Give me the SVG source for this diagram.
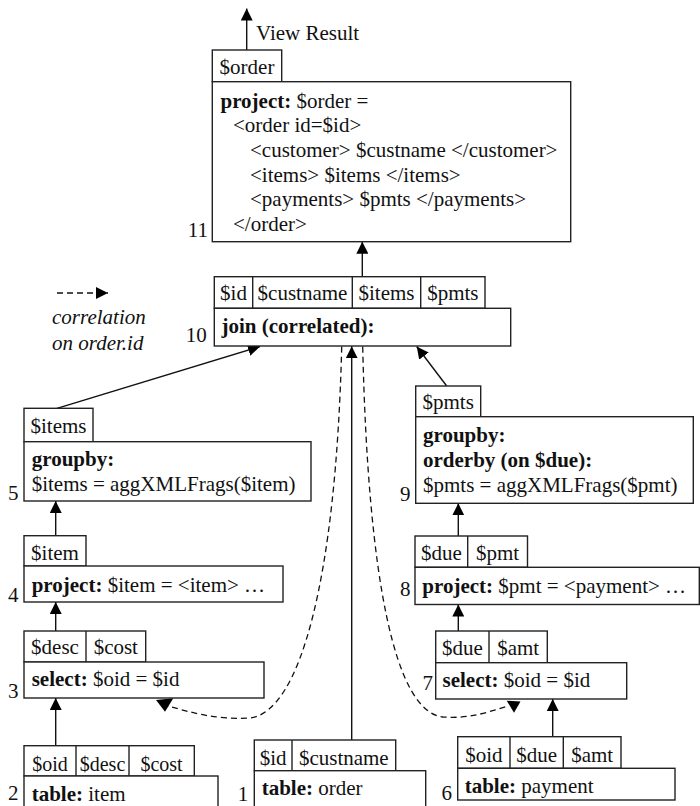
<svg xmlns="http://www.w3.org/2000/svg" width="700" height="806" viewBox="0 0 700 806">
<style>
  text { font-family: "Liberation Serif", "Times New Roman", serif; font-size: 21px; fill: #111; }
  .b { font-weight: bold; }
  .it { font-style: italic; }
  .c { text-anchor: middle; }
  .e { text-anchor: end; }
  .sm { font-size: 20px; }
  rect { fill: #fff; stroke: #222; stroke-width: 1.4; }
  line.cell { stroke: #222; stroke-width: 1.4; }
  .conn { fill: none; stroke: #111; stroke-width: 1.4; }
  .dash { fill: none; stroke: #111; stroke-width: 1.3; stroke-dasharray: 6 4; }
  .head { fill: #000; stroke: none; }
</style>
<defs>
  <marker id="arr" viewBox="0 0 12 12" refX="12" refY="6" markerWidth="12" markerHeight="12" markerUnits="userSpaceOnUse" orient="auto">
    <path d="M0,0 L12,6 L0,12 z" fill="#000"/>
  </marker>
</defs>

<!-- Legend -->
<g id="legend">
  <line x1="57" y1="293" x2="108" y2="293" class="dash" marker-end="url(#arr)"/>
  <text x="52" y="324" class="it">correlation</text>
  <text x="52" y="350" class="it">on order.id</text>
</g>

<!-- Connectors -->
<g id="connectors">
  <line x1="246.7" y1="50" x2="246.7" y2="8.5" class="conn" marker-end="url(#arr)"/>
  <text x="256" y="40">View Result</text>
  <line x1="362.3" y1="276.7" x2="362.3" y2="241.7" class="conn" marker-end="url(#arr)"/>
  <line x1="57" y1="408.3" x2="260" y2="346.5" class="conn" marker-end="url(#arr)"/>
  <line x1="446.7" y1="386" x2="416.7" y2="346.5" class="conn" marker-end="url(#arr)"/>
  <line x1="351.7" y1="740" x2="351.7" y2="346.3" class="conn" marker-end="url(#arr)"/>
  <line x1="55.7" y1="535.7" x2="55.7" y2="501" class="conn" marker-end="url(#arr)"/>
  <line x1="55.7" y1="631" x2="55.7" y2="602" class="conn" marker-end="url(#arr)"/>
  <line x1="55.7" y1="745.7" x2="55.7" y2="698" class="conn" marker-end="url(#arr)"/>
  <line x1="458.3" y1="536" x2="458.3" y2="503.3" class="conn" marker-end="url(#arr)"/>
  <line x1="458.3" y1="631" x2="458.3" y2="604.5" class="conn" marker-end="url(#arr)"/>
  <line x1="552.7" y1="736.7" x2="552.7" y2="699" class="conn" marker-end="url(#arr)"/>
  <!-- correlation curves -->
  <path d="M341.7,346.5 C336,580 300,712 250,718 C215,720 190,712 168,706" class="dash"/>
  <polygon points="156,700 173.3,698.3 165,711.7" class="head"/>
  <path d="M362.7,346.5 C368,580 395,712 443,717 C470,719 488,712 508,706" class="dash"/>
  <polygon points="506.7,700.7 520.5,701.5 514,712.7" class="head"/>
</g>

<!-- Node 11 -->
<g id="n11">
  <rect x="212.3" y="50" width="69.4" height="31.7"/>
  <text x="247" y="74" class="c">$order</text>
  <rect x="212.3" y="81.7" width="358.4" height="160"/>
  <text x="220.5" y="107.5"><tspan class="b">project:</tspan> $order =</text>
  <text x="233" y="132">&lt;order id=$id&gt;</text>
  <text x="250" y="157">&lt;customer&gt; $custname &lt;/customer&gt;</text>
  <text x="250" y="181.5">&lt;items&gt; $items &lt;/items&gt;</text>
  <text x="250" y="206">&lt;payments&gt; $pmts &lt;/payments&gt;</text>
  <text x="233" y="231">&lt;/order&gt;</text>
  <text x="208" y="236.5" class="e">11</text>
</g>

<!-- Node 10 -->
<g id="n10">
  <rect x="214.3" y="276.7" width="270.7" height="31.6"/>
  <line x1="252.7" y1="276.7" x2="252.7" y2="308.3" class="cell"/>
  <line x1="352.3" y1="276.7" x2="352.3" y2="308.3" class="cell"/>
  <line x1="420.7" y1="276.7" x2="420.7" y2="308.3" class="cell"/>
  <text x="233.5" y="300" class="c">$id</text>
  <text x="302.5" y="300" class="c">$custname</text>
  <text x="386.5" y="300" class="c">$items</text>
  <text x="452.8" y="300" class="c">$pmts</text>
  <rect x="214.3" y="308.3" width="296.4" height="37.7"/>
  <text x="221.5" y="332.5" class="b">join (correlated):</text>
  <text x="206.7" y="341.7" class="e">10</text>
</g>

<!-- Node 5 -->
<g id="n5">
  <rect x="24" y="408.3" width="69" height="33.4"/>
  <text x="58.5" y="432.5" class="c">$items</text>
  <rect x="24" y="441.7" width="287" height="59.3"/>
  <text x="31.7" y="466" class="b">groupby:</text>
  <text x="31.7" y="491">$items = aggXMLFrags($item)</text>
  <text x="18.5" y="500" class="e">5</text>
</g>

<!-- Node 4 -->
<g id="n4">
  <rect x="24" y="535.7" width="62" height="30.3"/>
  <text x="55" y="560" class="c">$item</text>
  <rect x="24" y="566" width="259" height="36"/>
  <text x="31.7" y="591.7"><tspan class="b">project:</tspan> $item = &lt;item&gt; …</text>
  <text x="18.5" y="601.7" class="e">4</text>
</g>

<!-- Node 3 -->
<g id="n3">
  <rect x="24" y="631" width="121.7" height="31"/>
  <line x1="86" y1="631" x2="86" y2="662" class="cell"/>
  <text x="55" y="653.5" class="c">$desc</text>
  <text x="115.8" y="653.5" class="c">$cost</text>
  <rect x="24" y="662" width="240" height="36"/>
  <text x="31.7" y="685.7"><tspan class="b">select:</tspan> $oid = $id</text>
  <text x="18.5" y="698" class="e">3</text>
</g>

<!-- Node 2 -->
<g id="n2">
  <rect x="24" y="745.7" width="170.3" height="30.3"/>
  <line x1="76" y1="745.7" x2="76" y2="776" class="cell"/>
  <line x1="129" y1="745.7" x2="129" y2="776" class="cell"/>
  <text x="50" y="770.5" class="sm c">$oid</text>
  <text x="102.5" y="770.5" class="sm c">$desc</text>
  <text x="161.5" y="770.5" class="sm c">$cost</text>
  <rect x="24" y="776" width="194" height="40"/>
  <text x="31.7" y="800.5"><tspan class="b">table:</tspan> item</text>
  <text x="18.5" y="800" class="e">2</text>
</g>

<!-- Node 1 -->
<g id="n1">
  <rect x="254.3" y="740" width="141.4" height="30.7"/>
  <line x1="292" y1="740" x2="292" y2="770.7" class="cell"/>
  <text x="273.2" y="765" class="c">$id</text>
  <text x="343.8" y="765" class="c">$custname</text>
  <rect x="254.3" y="770.7" width="171.4" height="45"/>
  <text x="261.7" y="795"><tspan class="b">table:</tspan> order</text>
  <text x="248.3" y="801" class="e">1</text>
</g>

<!-- Node 9 -->
<g id="n9">
  <rect x="415.7" y="386" width="65" height="30.7"/>
  <text x="448.2" y="409" class="c">$pmts</text>
  <rect x="415.7" y="416.7" width="277.6" height="86.6"/>
  <text x="423" y="441.7" class="b">groupby:</text>
  <text x="423" y="466.7" class="b">orderby (on $due):</text>
  <text x="423" y="491.7">$pmts = aggXMLFrags($pmt)</text>
  <text x="410.5" y="501" class="e">9</text>
</g>

<!-- Node 8 -->
<g id="n8">
  <rect x="415" y="536" width="112.5" height="31.3"/>
  <line x1="467.7" y1="536" x2="467.7" y2="567.3" class="cell"/>
  <text x="441.3" y="560" class="c">$due</text>
  <text x="497.6" y="560" class="c">$pmt</text>
  <rect x="415" y="567.3" width="284.3" height="37.2"/>
  <text x="422.3" y="593.3"><tspan class="b">project:</tspan> $pmt = &lt;payment&gt; …</text>
  <text x="410.5" y="595.7" class="e">8</text>
</g>

<!-- Node 7 -->
<g id="n7">
  <rect x="435.7" y="631" width="111.6" height="31.7"/>
  <line x1="489" y1="631" x2="489" y2="662.7" class="cell"/>
  <text x="462.3" y="655" class="c">$due</text>
  <text x="518.2" y="655" class="c">$amt</text>
  <rect x="435.7" y="662.7" width="191" height="36.3"/>
  <text x="442.5" y="686.7"><tspan class="b">select:</tspan> $oid = $id</text>
  <text x="433" y="690" class="e">7</text>
</g>

<!-- Node 6 -->
<g id="n6">
  <rect x="457.7" y="736.7" width="163.3" height="31.6"/>
  <line x1="510" y1="736.7" x2="510" y2="768.3" class="cell"/>
  <line x1="563.3" y1="736.7" x2="563.3" y2="768.3" class="cell"/>
  <text x="483.8" y="761.7" class="c">$oid</text>
  <text x="536.7" y="761.7" class="c">$due</text>
  <text x="592.2" y="761.7" class="c">$amt</text>
  <rect x="457.7" y="768.3" width="217.3" height="31.7"/>
  <text x="464.7" y="793"><tspan class="b">table:</tspan> payment</text>
  <text x="452" y="800" class="e">6</text>
</g>
</svg>
